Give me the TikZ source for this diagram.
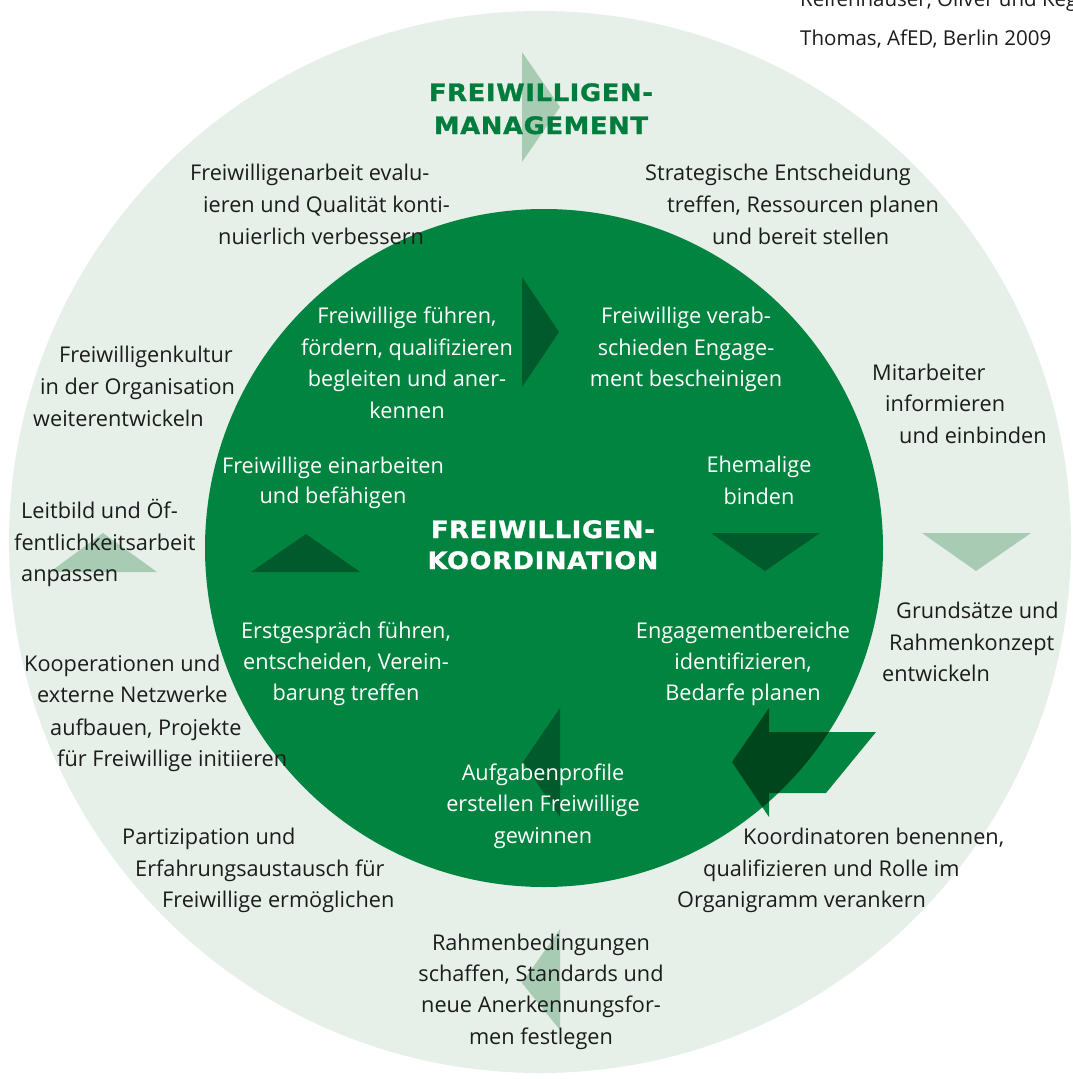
\documentclass[tikz,border=0pt]{standalone}
\usepackage{fontspec}
\setmainfont{Open Sans}
\newfontfamily\titlefont[LetterSpace=3.0, FakeStretch=1.07, FakeBold=1.2]{DejaVu Sans}
\definecolor{outerbg}{RGB}{230,240,233}
\definecolor{innergreen}{RGB}{0,132,64}
\definecolor{darktri}{RGB}{0,90,43}
\definecolor{lighttri}{RGB}{168,203,179}
\definecolor{arrowdark}{RGB}{0,70,28}
\definecolor{titlegreen}{RGB}{0,125,60}
\definecolor{textdark}{RGB}{28,28,28}
\newcommand\bodyfont{\fontsize{21.7}{26}\selectfont}
\newcommand\srcfont{\fontsize{20.5}{25}\selectfont}
\newcommand\headfont{\titlefont\bfseries\fontsize{24}{29}\selectfont}
\begin{document}
\begin{tikzpicture}[x=1pt,y=-1pt,
  lt/.style={inner sep=0pt, text=textdark, font=\bodyfont, anchor=base west},
  srct/.style={inner sep=0pt, text=textdark, font=\srcfont, anchor=base west},
  lc/.style={inner sep=0pt, text=textdark, font=\bodyfont, anchor=base},
  wc/.style={inner sep=0pt, text=white, font=\bodyfont, anchor=base},
  headg/.style={inner sep=0pt, text=titlegreen, font=\headfont, anchor=base},
  headw/.style={inner sep=0pt, text=white, font=\headfont, anchor=base}]
\clip (0,0) rectangle (1073,1079);
\fill[white] (0,0) rectangle (1073,1079);
% outer circle
\fill[outerbg] (540,542) circle[radius=531pt];
% light triangles (outer ring)
\fill[lighttri] (522,52) -- (560,107) -- (522,162) -- cycle;
\fill[lighttri] (922,533) -- (1031,533) -- (976,571) -- cycle;
\fill[lighttri] (560,929) -- (560,1030) -- (522,983) -- cycle;
\fill[lighttri] (50,572) -- (157,572) -- (103,533) -- cycle;
% inner circle
\fill[innergreen] (544,548) circle[radius=339pt];
% dark triangles (inner circle)
\fill[darktri] (522,277) -- (559,332) -- (522,387) -- cycle;
\fill[darktri] (711,533) -- (820,533) -- (765,571) -- cycle;
\fill[darktri] (560,708) -- (560,817) -- (523,762) -- cycle;
\fill[darktri] (251,572) -- (360,572) -- (306,534) -- cycle;
% big arrow
\fill[innergreen] (732,762) -- (769,708) -- (769,732) -- (876,732) -- (826,793) -- (769,793) -- (769,817) -- cycle;
\begin{scope}
\clip (544,548) circle[radius=339pt];
\fill[arrowdark] (732,762) -- (769,708) -- (769,732) -- (876,732) -- (826,793) -- (769,793) -- (769,817) -- cycle;
\end{scope}
% source
\node[srct] (src1) at (800,6) {Reifenhäuser, Oliver und Kegel,};
\node[srct] (src2) at (800,45) {Thomas, AfED, Berlin 2009};
% titles
\node[headg] (tm1) at (541,101) {FREIWILLIGEN-};
\node[headg] (tm2) at (541,134) {MANAGEMENT};
\node[headw] (tk1) at (543,538) {FREIWILLIGEN-};
\node[headw] (tk2) at (543,569) {KOORDINATION};
% outer texts
\node[lt] (a1) at (190,180) {Freiwilligenarbeit evalu-};
\node[lt] (a2) at (203,212) {ieren und Qualität konti-};
\node[lt] (a3) at (218,244) {nuierlich verbessern};
\node[lt] (b1) at (645,180) {Strategische Entscheidung};
\node[lt] (b2) at (667,212) {treffen, Ressourcen planen};
\node[lt] (b3) at (712,244) {und bereit stellen};
\node[lt] (c1) at (59,362) {Freiwilligenkultur};
\node[lt] (c2) at (40,394) {in der Organisation};
\node[lt] (c3) at (33,426) {weiterentwickeln};
\node[lt] (d1) at (872,380) {Mitarbeiter};
\node[lt] (d2) at (885,411) {informieren};
\node[lt] (d3) at (899,443) {und einbinden};
\node[lt] (e1) at (21,518) {Leitbild und Öf-};
\node[lt] (e2) at (14,550) {fentlichkeitsarbeit};
\node[lt] (e3) at (21,581) {anpassen};
\node[lt] (f1) at (896,618) {Grundsätze und};
\node[lt] (f2) at (889,650) {Rahmenkonzept};
\node[lt] (f3) at (882,681) {entwickeln};
\node[lt] (g1) at (24,671) {Kooperationen und};
\node[lt] (g2) at (37,702) {externe Netzwerke};
\node[lt] (g3) at (50,735) {aufbauen, Projekte};
\node[lt] (g4) at (57,766) {für Freiwillige initiieren};
\node[lt] (h1) at (122,844) {Partizipation und};
\node[lt] (h2) at (135,876) {Erfahrungsaustausch für};
\node[lt] (h3) at (162,907) {Freiwillige ermöglichen};
\node[lt] (i1) at (743,844) {Koordinatoren benennen,};
\node[lt] (i2) at (703,876) {qualifizieren und Rolle im};
\node[lt] (i3) at (677,907) {Organigramm verankern};
\node[lc] (j1) at (541,950) {Rahmenbedingungen};
\node[lc] (j2) at (541,981) {schaffen, Standards und};
\node[lc] (j3) at (541,1012) {neue Anerkennungsfor-};
\node[lc] (j4) at (541,1044) {men festlegen};
% inner texts
\node[wc] (k1) at (407,323) {Freiwillige führen,};
\node[wc] (k2) at (407,355) {fördern, qualifizieren};
\node[wc] (k3) at (407,386) {begleiten und aner-};
\node[wc] (k4) at (407,418) {kennen};
\node[wc] (l1) at (686,323) {Freiwillige verab-};
\node[wc] (l2) at (686,355) {schieden Engage-};
\node[wc] (l3) at (686,386) {ment bescheinigen};
\node[wc] (m1) at (333,473) {Freiwillige einarbeiten};
\node[wc] (m2) at (333,503) {und befähigen};
\node[wc] (n1) at (759,472) {Ehemalige};
\node[wc] (n2) at (759,504) {binden};
\node[wc] (p1) at (346,638) {Erstgespräch führen,};
\node[wc] (p2) at (346,669) {entscheiden, Verein-};
\node[wc] (p3) at (346,700) {barung treffen};
\node[wc] (q1) at (743,638) {Engagementbereiche};
\node[wc] (q2) at (743,669) {identifizieren,};
\node[wc] (q3) at (743,700) {Bedarfe planen};
\node[wc] (r1) at (543,780) {Aufgabenprofile};
\node[wc] (r2) at (543,811) {erstellen Freiwillige};
\node[wc] (r3) at (543,843) {gewinnen};
\end{tikzpicture}
\end{document}
